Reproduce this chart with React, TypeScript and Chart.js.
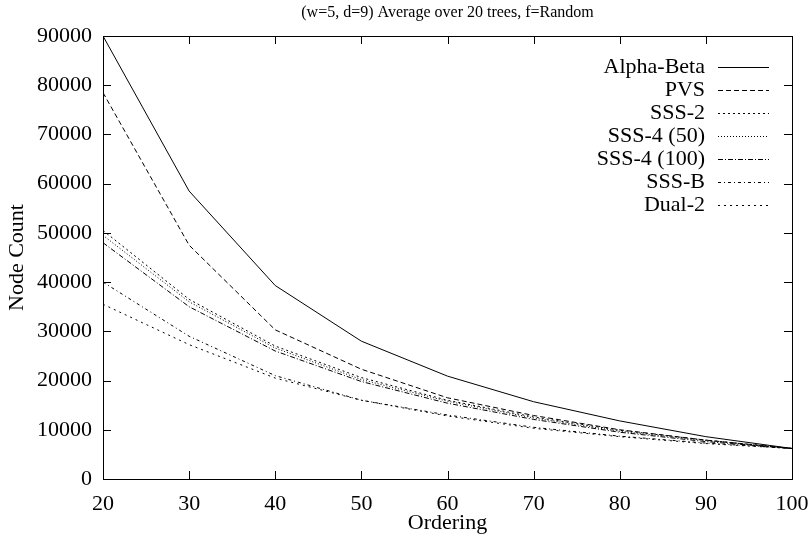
import { useEffect, useRef } from "react";
import { Chart, registerables } from "chart.js";
Chart.register(...registerables);

const TITLE = "(w=5, d=9) Average over 20 trees, f=Random";
const X_TITLE = "Ordering";
const Y_TITLE = "Node Count";

const orderings = [20, 30, 40, 50, 60, 70, 80, 90, 100];
const alphaBeta = [90000, 58500, 39300, 28000, 20900, 15700, 11800, 8600, 6200];
const pvs = [78500, 47500, 30300, 22300, 16500, 12900, 10000, 7900, 6200];
const sss2 = [50500, 36500, 27000, 20600, 16000, 12600, 9900, 7900, 6200];
const sss4_50 = [49500, 36000, 26600, 20200, 15800, 12400, 9700, 7800, 6200];
const sss4_100 = [48000, 35000, 26000, 19800, 15400, 12100, 9500, 7600, 6200];
const sssB = [40000, 29000, 21000, 16000, 13000, 10500, 8700, 7300, 6200];
const dual2 = [35500, 27300, 20500, 16000, 12800, 10300, 8600, 7200, 6200];

const seriesNames = ["Alpha-Beta", "PVS", "SSS-2", "SSS-4 (50)", "SSS-4 (100)", "SSS-B", "Dual-2"];
const seriesValues = [alphaBeta, pvs, sss2, sss4_50, sss4_100, sssB, dual2];
const seriesDash: number[][] = [[], [5, 3], [2, 3], [1, 2], [5, 2, 1, 2], [3, 3, 1, 3], [2, 4]];

const FONT = "'Liberation Serif', 'DejaVu Serif', serif";
const FS = 22;

const framePlugin = {
  id: "frame",
  afterDatasetsDraw(chart: any) {
    const { ctx, chartArea: a, scales } = chart;
    ctx.save();
    ctx.strokeStyle = "#000";
    ctx.lineWidth = 1;
    ctx.setLineDash([]);
    const tl = 8;
    ctx.beginPath();
    scales.x.ticks.forEach((t: any) => {
      const px = Math.round(scales.x.getPixelForValue(t.value)) + 0.5;
      ctx.moveTo(px, a.bottom);
      ctx.lineTo(px, a.bottom - tl);
      ctx.moveTo(px, a.top);
      ctx.lineTo(px, a.top + tl);
    });
    scales.y.ticks.forEach((t: any) => {
      const py = Math.round(scales.y.getPixelForValue(t.value)) + 0.5;
      ctx.moveTo(a.left, py);
      ctx.lineTo(a.left + tl, py);
      ctx.moveTo(a.right, py);
      ctx.lineTo(a.right - tl, py);
    });
    ctx.stroke();
    ctx.strokeRect(Math.round(a.left) + 0.5, Math.round(a.top) + 0.5, Math.round(a.right - a.left), Math.round(a.bottom - a.top));

    ctx.fillStyle = "#000";
    ctx.font = `16px ${FONT}`;
    ctx.textAlign = "center";
    ctx.textBaseline = "middle";
    const cx = (a.left + a.right) / 2;
    ctx.fillText(TITLE, cx, 13);
    ctx.font = `${FS}px ${FONT}`;
    ctx.fillText(X_TITLE, cx, 523);
    ctx.save();
    ctx.translate(17, (a.top + a.bottom) / 2);
    ctx.rotate(-Math.PI / 2);
    ctx.fillText(Y_TITLE, 0, 0);
    ctx.restore();

    ctx.font = `${FS}px ${FONT}`;
    ctx.textAlign = "right";
    chart.data.datasets.forEach((ds: any, i: number) => {
      const y = 67 + i * 23;
      ctx.fillStyle = "#000";
      ctx.fillText(ds.label, 705, y);
      ctx.beginPath();
      ctx.setLineDash(ds.borderDash || []);
      ctx.lineWidth = ds.borderWidth;
      ctx.moveTo(718, Math.round(y) + 0.5);
      ctx.lineTo(769, Math.round(y) + 0.5);
      ctx.stroke();
    });
    ctx.restore();
  },
};

export default function App() {
  const ref = useRef<HTMLCanvasElement>(null);
  useEffect(() => {
    document.body.style.margin = "0";
    const chart = new Chart(ref.current!, {
      type: "line",
      data: {
        datasets: seriesNames.map((name, i) => ({
          label: name,
          data: orderings.map((x, j) => ({ x, y: seriesValues[i][j] })),
          borderColor: "#000",
          backgroundColor: "#000",
          borderWidth: 1,
          borderDash: seriesDash[i],
          pointRadius: 0,
          tension: 0,
          fill: false,
        })),
      },
      options: {
        animation: false,
        responsive: false,
        maintainAspectRatio: false,
        layout: { padding: { top: 36, right: 16, left: 0, bottom: 0 } },
        plugins: { legend: { display: false }, title: { display: false }, tooltip: { enabled: false } },
        scales: {
          x: {
            type: "linear",
            min: 20,
            max: 100,
            grid: { display: false, drawTicks: false },
            border: { display: false },
            ticks: { stepSize: 10, color: "#000", padding: 12, font: { family: FONT, size: FS }, maxRotation: 0 },
            afterFit: (s: any) => { s.height = 61; s.paddingLeft = 0; s.paddingRight = 0; },
          },
          y: {
            min: 0,
            max: 90000,
            grid: { display: false, drawTicks: false },
            border: { display: false },
            ticks: { stepSize: 10000, color: "#000", padding: 11, font: { family: FONT, size: FS }, callback: (v: any) => String(v) },
            afterFit: (s: any) => { s.width = 103; s.paddingTop = 0; s.paddingBottom = 0; },
          },
        },
      },
      plugins: [framePlugin],
    });
    return () => chart.destroy();
  }, []);
  return <canvas ref={ref} width={808} height={540} style={{ display: "block" }} />;
}
